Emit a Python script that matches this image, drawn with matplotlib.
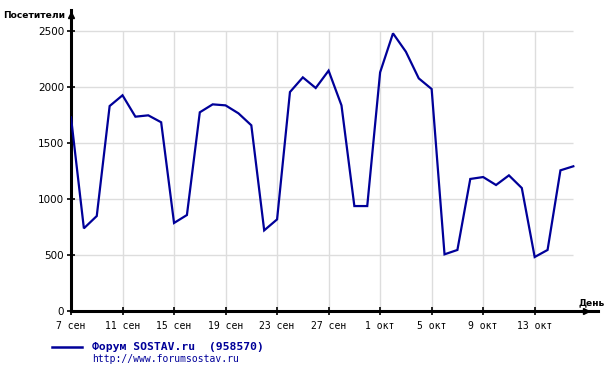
import matplotlib
matplotlib.use("Agg")
import matplotlib.pyplot as plt
import numpy as np

# ---- data ----
visitors = [1729, 738, 848, 1830, 1926, 1735, 1747, 1685, 786, 857,
            1774, 1845, 1836, 1765, 1658, 720, 818, 1955, 2086, 1991,
            2146, 1836, 937, 937, 2131, 2479, 2315, 2077, 1982, 506,
            545, 1179, 1196, 1125, 1211, 1098, 482, 545, 1256, 1292]
tick_days = [0, 4, 8, 12, 16, 20, 24, 28, 32, 36]
tick_labels = ["7 сен", "11 сен", "15 сен", "19 сен", "23 сен", "27 сен",
               "1 окт", "5 окт", "9 окт", "13 окт"]
y_ticks = [0, 500, 1000, 1500, 2000, 2500]
series_name = "Форум SOSTAV.ru  (958570)"
series_url = "http://www.forumsostav.ru"

W, H = 610, 367
fig = plt.figure(figsize=(W / 100, H / 100), dpi=100)
fig.patch.set_facecolor("white")

# pixel layout
x0_px, x1_px = 71, 598
y0_px, ytop_px = 311, 10
px_per_day = 12.88
px_per_unit = 280 / 2500

ax = fig.add_axes([x0_px / W, (H - y0_px) / H, (x1_px - x0_px) / W, (y0_px - ytop_px) / H])
ax.set_xlim(0, (x1_px - x0_px) / px_per_day)
ax.set_ylim(0, (y0_px - ytop_px) / px_per_unit)

days = np.arange(len(visitors))
last = days[-1]
grid_c = "#dddddd"
ax.hlines([t for t in y_ticks if t > 0], 0, last, color=grid_c, lw=1, zorder=1)
ax.vlines([d for d in tick_days if d > 0], 0, y_ticks[-1], color=grid_c, lw=1, zorder=1)

ax.plot(days, visitors, color="#000099", lw=1.6, zorder=3, solid_joinstyle="miter")

for s in ["top", "right"]:
    ax.spines[s].set_visible(False)
for s in ["left", "bottom"]:
    ax.spines[s].set_linewidth(2.2)
    ax.spines[s].set_color("black")

ax.set_xticks(tick_days)
ax.set_xticklabels(tick_labels, fontfamily="DejaVu Sans Mono", fontsize=7)
ax.set_yticks(y_ticks)
ax.set_yticklabels([str(t) for t in y_ticks], fontfamily="DejaVu Sans", fontsize=7.5)
ax.tick_params(axis="both", direction="inout", length=6, width=1.2, color="black", pad=2)
ax.tick_params(axis="x", pad=4)

# arrows
ax.plot([0], [1 - 5 / (y0_px - ytop_px)], marker="^", color="black", markersize=5,
        transform=ax.transAxes, clip_on=False, zorder=5)
ax.plot([1 - 12 / (x1_px - x0_px)], [0], marker=">", color="black", markersize=5,
        transform=ax.transAxes, clip_on=False, zorder=5)

fig.text(3 / W, 1 - 15 / H, "Посетители", fontsize=6.6, fontweight="bold",
         ha="left", va="center", family="DejaVu Sans")
fig.text(605 / W, 1 - 303 / H, "День", fontsize=6.6, fontweight="bold",
         ha="right", va="center", family="DejaVu Sans")

# legend
fig.add_artist(plt.Line2D([52 / W, 82 / W], [1 - 347 / H, 1 - 347 / H],
                          color="#000099", lw=1.8))
fig.text(92 / W, 1 - 346.5 / H, series_name, fontsize=8.2, fontweight="bold",
         color="#000099", family="DejaVu Sans Mono", ha="left", va="center")
fig.text(92 / W, 1 - 359.5 / H, series_url, fontsize=7, color="#000099",
         family="DejaVu Sans Mono", ha="left", va="center")

fig.savefig("out.png", dpi=100)
